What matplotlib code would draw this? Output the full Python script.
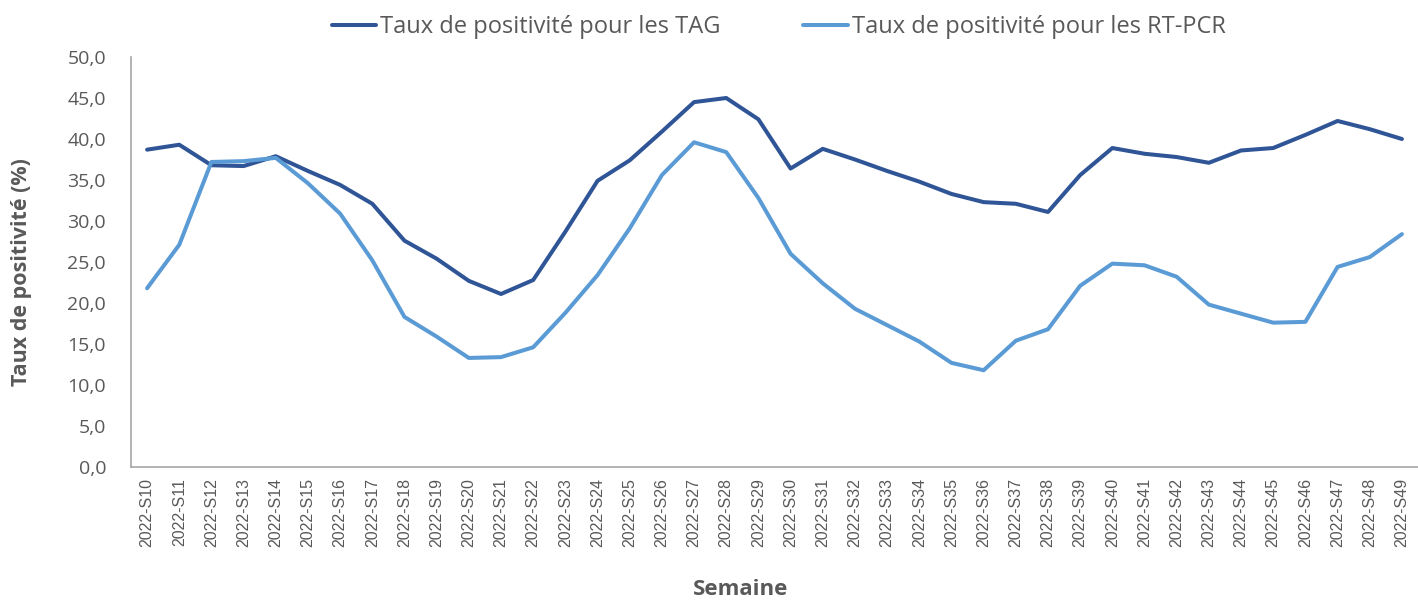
import matplotlib
matplotlib.use("Agg")
import matplotlib.pyplot as plt
from matplotlib.ticker import FuncFormatter

weeks = [f"2022-S{w}" for w in range(10, 50)]
tag = [38.7, 39.3, 36.8, 36.7, 37.9, 36.1, 34.4, 32.1, 27.6, 25.4,
       22.7, 21.1, 22.8, 28.7, 34.9, 37.4, 40.9, 44.5, 45.0, 42.4,
       36.4, 38.8, 37.5, 36.1, 34.8, 33.3, 32.3, 32.1, 31.1, 35.6,
       38.9, 38.2, 37.8, 37.1, 38.6, 38.9, 40.5, 42.2, 41.2, 40.0]
rtpcr = [21.8, 27.1, 37.2, 37.3, 37.7, 34.6, 30.9, 25.2, 18.3, 15.9,
         13.3, 13.4, 14.6, 18.8, 23.4, 29.1, 35.6, 39.6, 38.4, 32.8,
         26.0, 22.4, 19.3, 17.3, 15.3, 12.7, 11.8, 15.4, 16.8, 22.1,
         24.8, 24.6, 23.2, 19.8, 18.7, 17.6, 17.7, 24.4, 25.6, 28.4]
label_tag = "Taux de positivité pour les TAG"
label_pcr = "Taux de positivité pour les RT-PCR"

gray = "#595959"
fig = plt.figure(figsize=(14.18, 6.07), dpi=100)
ax = fig.add_axes([131/1418, 140/607, 1287/1418, 410/607])

x = list(range(len(weeks)))
ax.plot(x, tag, color="#2F5597", lw=2.9, label=label_tag, solid_capstyle="round")
ax.plot(x, rtpcr, color="#5B9BD5", lw=2.9, label=label_pcr, solid_capstyle="round")

ax.set_xlim(-0.5, len(weeks) - 0.5)
ax.set_ylim(0, 50)
ax.set_yticks(range(0, 51, 5))
ax.yaxis.set_major_formatter(FuncFormatter(lambda v, p: f"{v:.1f}".replace(".", ",")))
ax.set_xticks(x)
ax.set_xticklabels(weeks, rotation=90, fontsize=11.5, color=gray, family="Liberation Sans")
for t in ax.get_yticklabels():
    t.set_fontsize(14)
    t.set_color(gray)
    t.set_family("Open Sans")
ax.tick_params(axis="x", length=0, pad=8)
ax.tick_params(axis="y", length=0, pad=18)

for s in ["top", "right"]:
    ax.spines[s].set_visible(False)
for s in ["left", "bottom"]:
    ax.spines[s].set_color("#A6A6A6")
    ax.spines[s].set_linewidth(1.2)

ax.set_ylabel("Taux de positivité (%)", fontsize=15.5, fontweight="bold", color=gray,
              family="Open Sans", va="center")
ax.yaxis.set_label_coords(-0.0847, 0.476)
fig.text(0.522, 0.012, "Semaine", fontsize=16, fontweight="bold", color=gray,
         family="Open Sans", ha="center", va="bottom")

fig.legend(loc="center", bbox_to_anchor=(0.549, 1 - 27/607), ncol=2, frameon=False,
           prop={"family": "Open Sans", "size": 17}, labelcolor=gray,
           handlelength=1.9, handletextpad=0.15, columnspacing=3.5)

fig.savefig("out.png", dpi=100)
